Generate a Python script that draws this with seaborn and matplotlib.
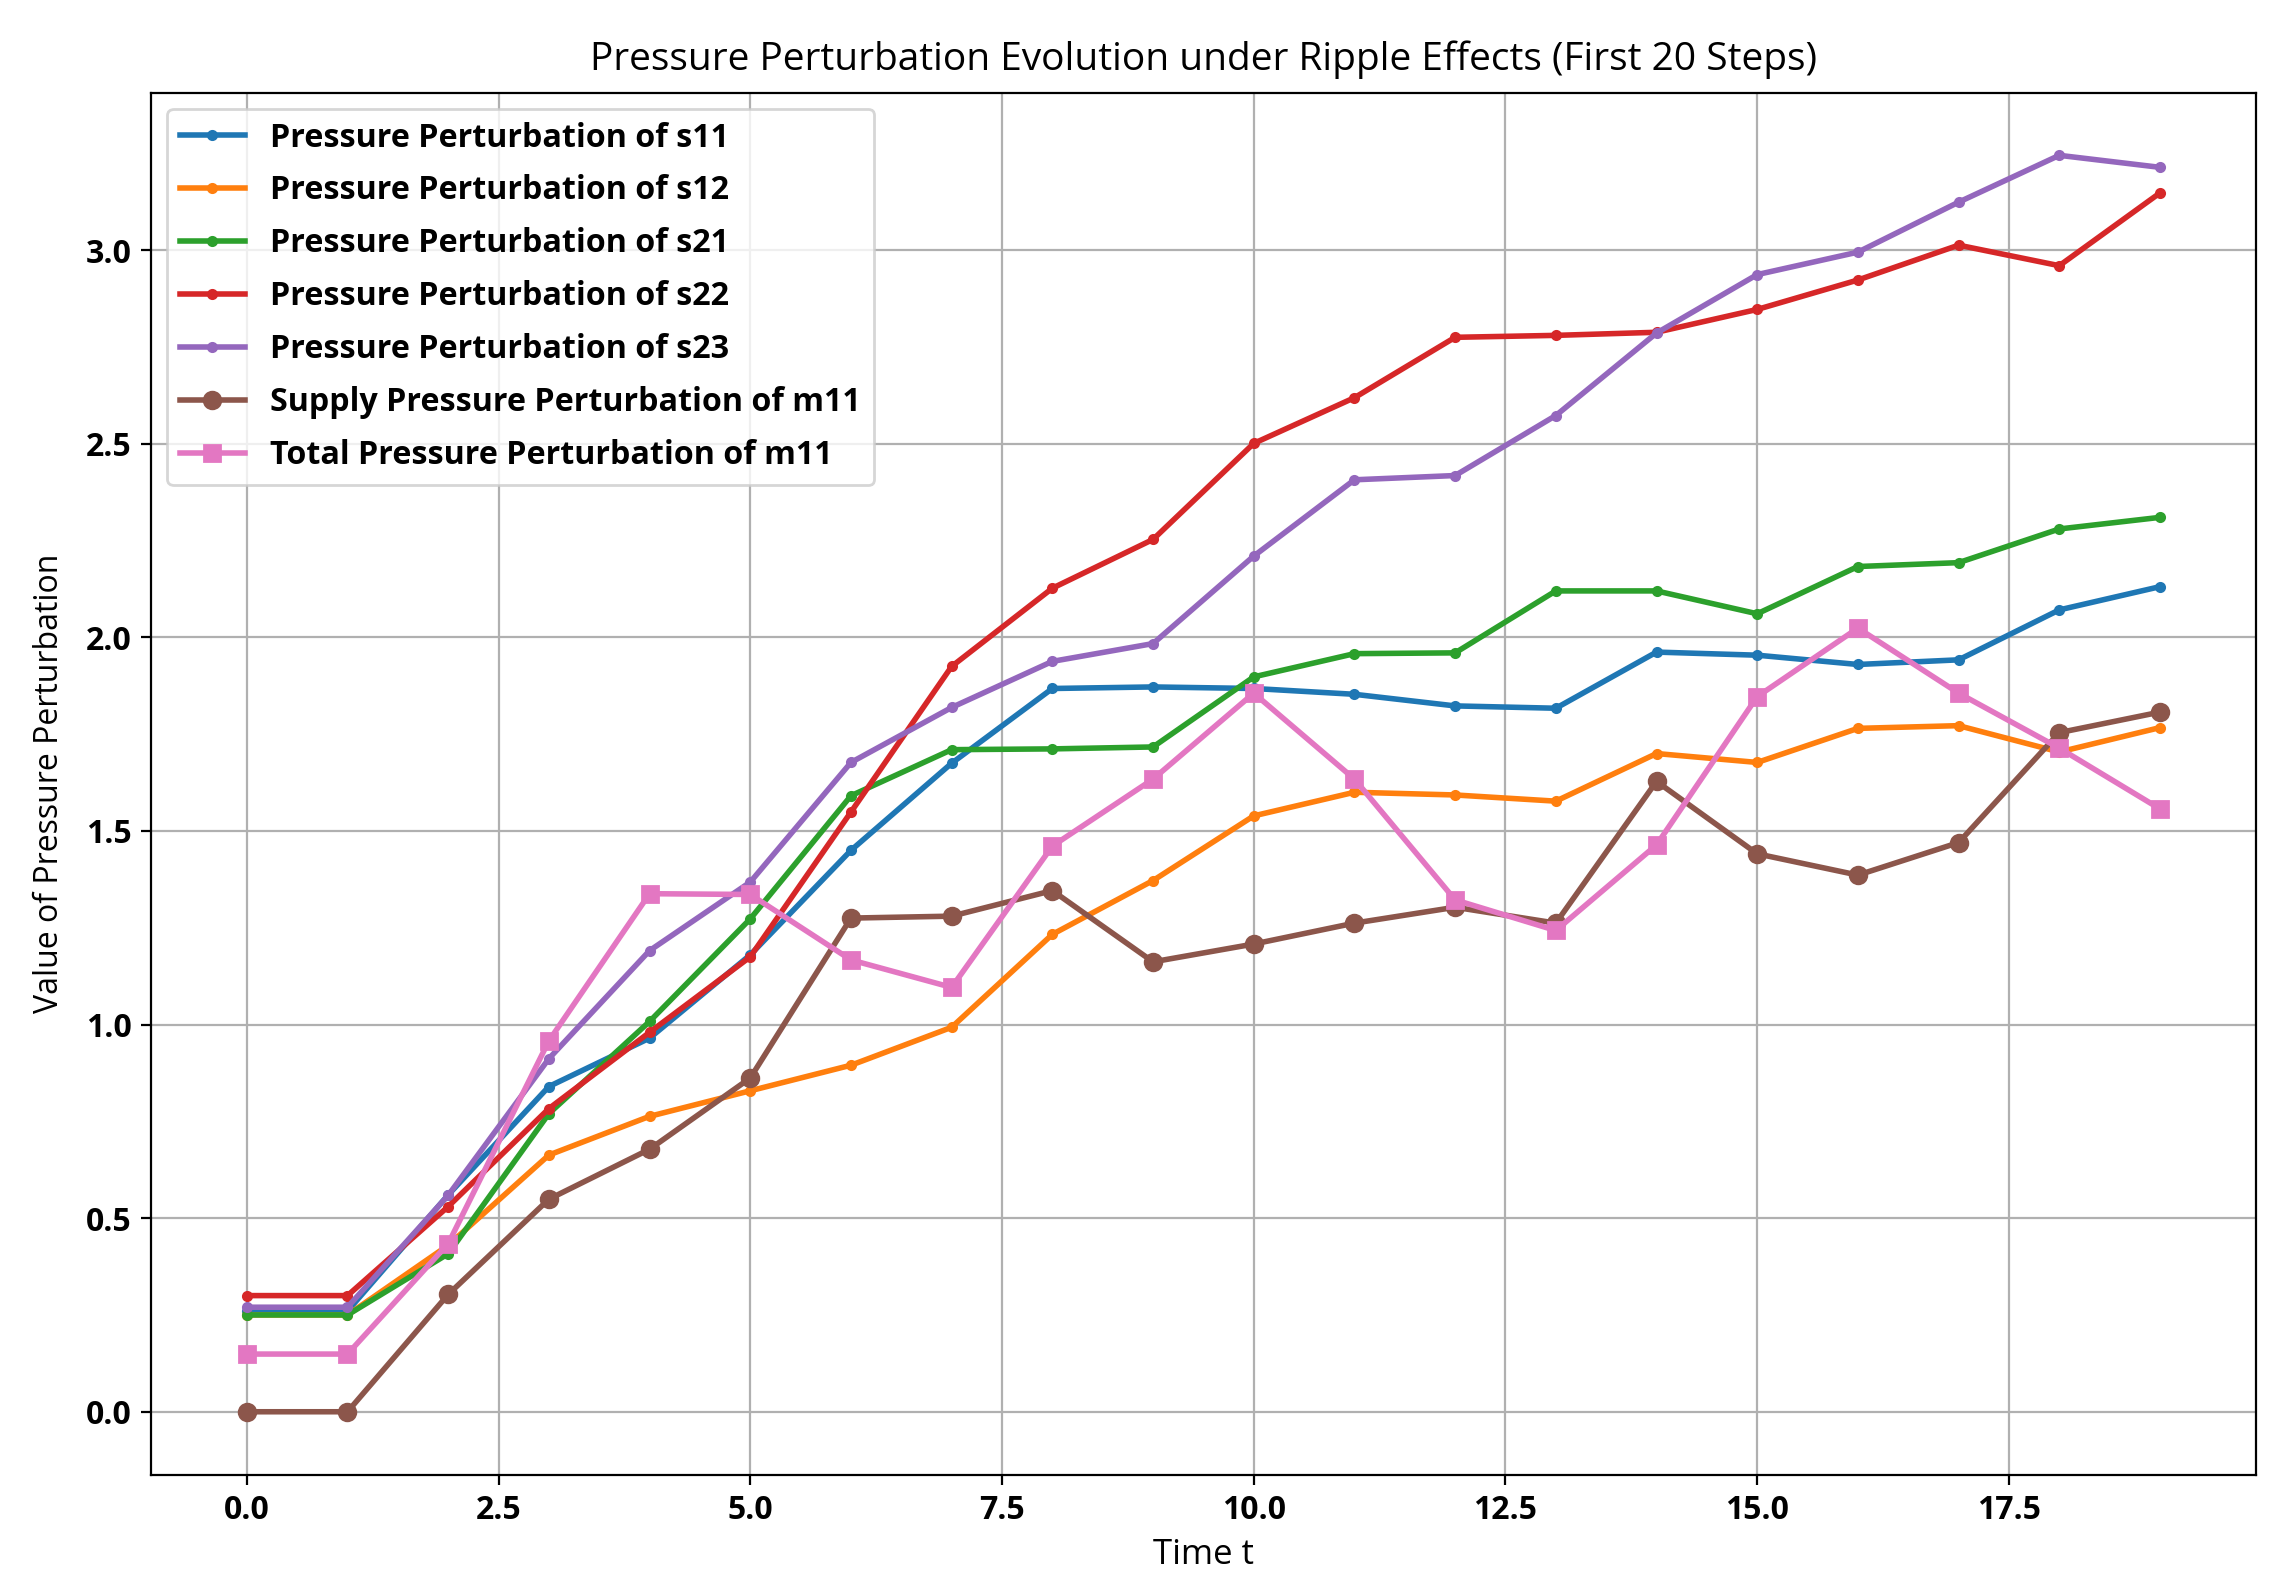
import matplotlib
matplotlib.use('Agg')
import matplotlib.pyplot as plt
import seaborn as sns

t = list(range(20))

s11 = [0.26, 0.26, 0.56, 0.84, 0.965, 1.18, 1.45, 1.675, 1.868, 1.872,
       1.868, 1.853, 1.823, 1.817, 1.962, 1.954, 1.930, 1.942, 2.071, 2.131]
s12 = [0.25, 0.25, 0.43, 0.663, 0.763, 0.829, 0.895, 0.993, 1.233, 1.372,
       1.539, 1.600, 1.593, 1.577, 1.700, 1.677, 1.765, 1.772, 1.704, 1.767]
s21 = [0.25, 0.25, 0.408, 0.77, 1.008, 1.273, 1.591, 1.710, 1.712, 1.717,
       1.898, 1.958, 1.960, 2.120, 2.120, 2.061, 2.183, 2.193, 2.280, 2.310]
s22 = [0.30, 0.30, 0.53, 0.783, 0.98, 1.175, 1.549, 1.925, 2.127, 2.253,
       2.501, 2.619, 2.775, 2.780, 2.788, 2.847, 2.923, 3.013, 2.960, 3.148]
s23 = [0.27, 0.27, 0.559, 0.912, 1.191, 1.368, 1.677, 1.819, 1.938, 1.984,
       2.210, 2.407, 2.418, 2.573, 2.786, 2.937, 2.995, 3.124, 3.245, 3.214]
m11_supply = [0.0, 0.0, 0.303, 0.549, 0.678, 0.862, 1.275, 1.280, 1.346, 1.162,
              1.208, 1.262, 1.303, 1.262, 1.628, 1.441, 1.386, 1.470, 1.754, 1.807]
m11_total = [0.149, 0.149, 0.434, 0.958, 1.338, 1.336, 1.167, 1.096, 1.461, 1.634,
             1.856, 1.634, 1.322, 1.243, 1.464, 1.847, 2.024, 1.856, 1.714, 1.557]

labels = ['Pressure Perturbation of s11', 'Pressure Perturbation of s12',
          'Pressure Perturbation of s21', 'Pressure Perturbation of s22',
          'Pressure Perturbation of s23', 'Supply Pressure Perturbation of m11',
          'Total Pressure Perturbation of m11']

plt.rcParams['font.family'] = ['Open Sans', 'DejaVu Sans']

fig, ax = plt.subplots(figsize=(11.45, 7.975), dpi=200)
fig.subplots_adjust(left=0.066, right=0.985, bottom=0.0755, top=0.942)

colors = sns.color_palette('tab10')
series = [s11, s12, s21, s22, s23, m11_supply, m11_total]
markers = ['.', '.', '.', '.', '.', 'o', 's']

# one line per series, markers like the original
for i, vals in enumerate(series):
    sns.lineplot(x=t, y=vals, ax=ax, color=colors[i], marker=markers[i],
                 markersize=6, markeredgewidth=1, markeredgecolor=colors[i],
                 linewidth=2, label=labels[i])

ax.grid(True, color='#b0b0b0', linewidth=0.8)
ax.set_axisbelow(True)
ax.set_title('Pressure Perturbation Evolution under Ripple Effects (First 20 Steps)',
             fontsize=14, pad=8)
ax.set_xlabel('Time t', fontsize=12.5)
ax.set_ylabel('Value of Pressure Perturbation', fontsize=11.5, labelpad=7)
for lab in ax.get_xticklabels() + ax.get_yticklabels():
    lab.set_fontweight('bold')
    lab.set_fontsize(11.5)
ax.legend(loc='upper left', prop={'weight': 'bold', 'size': 11.6},
          labelspacing=0.62)

fig.savefig('out.png', dpi=200)
